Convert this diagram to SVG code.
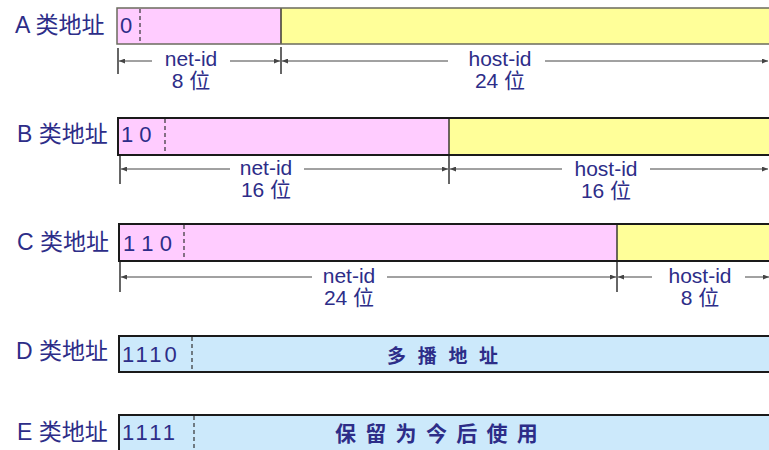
<svg xmlns="http://www.w3.org/2000/svg" width="769" height="450" viewBox="0 0 769 450">
<defs>
<style>
.lbl{font-family:"Liberation Sans","Noto Sans CJK SC",sans-serif;font-size:23px;fill:#2d2d88}
.bits{font-family:"Liberation Sans",sans-serif;font-size:22px;fill:#2d2d88}
.dim{font-family:"Liberation Sans","Noto Sans CJK SC",sans-serif;font-size:21px;fill:#2d2d88;text-anchor:middle}
.big{font-family:"Noto Sans CJK SC",sans-serif;font-weight:bold;fill:#2d2d88}
.pink{fill:#ffccff}
.yellow{fill:#ffff99}
.blue{fill:#cce9fb}
.frame{fill:none;stroke:#1a1a1a;stroke-width:2}
.frameA{fill:none;stroke:#6b6b5e;stroke-width:1.5}
.div{stroke:#3a3a30;stroke-width:1.5}
.dash{stroke:#333;stroke-width:1.2;stroke-dasharray:4 3}
.tick{stroke:#333;stroke-width:1.5}
.dl{stroke:#444;stroke-width:1;fill:none}
.s{marker-start:url(#ah)}
.e{marker-end:url(#ah)}
</style>
<marker id="ah" markerUnits="userSpaceOnUse" markerWidth="6" markerHeight="5" refX="6" refY="2.5" orient="auto-start-reverse">
<path d="M0,0 L6,2.5 L0,5 z" fill="#444"/>
</marker>
</defs>
<rect width="769" height="450" fill="#ffffff"/>

<g id="classA">
<text class="lbl" x="15" y="33">A 类地址</text>
<rect class="pink" x="117" y="8" width="164" height="36"/>
<rect class="yellow" x="281" y="8" width="500" height="36"/>
<line class="div" x1="281" y1="8" x2="281" y2="44"/>
<rect class="frameA" x="117" y="8" width="670" height="36"/>
<line class="dash" x1="140" y1="9" x2="140" y2="43"/>
<text class="bits" x="120" y="33">0</text>
<text class="dim" x="191" y="66">net-id</text>
<text class="dim" x="191" y="88">8 位</text>
<text class="dim" x="500" y="66">host-id</text>
<text class="dim" x="500" y="88">24 位</text>
</g>

<g id="classB">
<text class="lbl" x="17" y="142">B 类地址</text>
<rect class="pink" x="118" y="118" width="331" height="37"/>
<rect class="yellow" x="449" y="118" width="330" height="37"/>
<line class="div" x1="449" y1="118" x2="449" y2="155"/>
<rect class="frame" x="118" y="118" width="670" height="37"/>
<line class="dash" x1="165" y1="119" x2="165" y2="154"/>
<text class="bits" x="121" y="142">1 0</text>
<text class="dim" x="266" y="175">net-id</text>
<text class="dim" x="266" y="197">16 位</text>
<text class="dim" x="606" y="176">host-id</text>
<text class="dim" x="606" y="198">16 位</text>
</g>

<g id="classC">
<text class="lbl" x="17" y="250">C 类地址</text>
<rect class="pink" x="119" y="224" width="498" height="37"/>
<rect class="yellow" x="617" y="224" width="170" height="37"/>
<line class="div" x1="617" y1="224" x2="617" y2="261"/>
<rect class="frame" x="119" y="224" width="670" height="37"/>
<line class="dash" x1="184" y1="225" x2="184" y2="260"/>
<text class="bits" x="123" y="251">1 1 0</text>
<text class="dim" x="349" y="283">net-id</text>
<text class="dim" x="349" y="305">24 位</text>
<text class="dim" x="700" y="283">host-id</text>
<text class="dim" x="700" y="305">8 位</text>
</g>

<g id="classD">
<text class="lbl" x="16" y="359">D 类地址</text>
<rect class="blue" x="119" y="336" width="670" height="36"/>
<rect class="frame" x="119" y="336" width="670" height="36"/>
<line class="dash" x1="192" y1="337" x2="192" y2="371"/>
<text class="bits" x="122" y="362" letter-spacing="3">1110</text>
<text class="big" x="387" y="363" font-size="19" letter-spacing="11.7">多播地址</text>
</g>

<g id="classE">
<text class="lbl" x="17" y="440">E 类地址</text>
<rect class="blue" x="119" y="415" width="670" height="50"/>
<rect class="frame" x="119" y="415" width="670" height="50"/>
<line class="dash" x1="194" y1="416" x2="194" y2="450"/>
<text class="bits" x="122" y="440" letter-spacing="3">1111</text>
<text class="big" x="335" y="441" font-size="21" letter-spacing="9.3">保留为今后使用</text>
</g>

<g id="connectors">
<line class="tick" x1="118" y1="48" x2="118" y2="74"/>
<line class="tick" x1="281" y1="47" x2="281" y2="74"/>
<line class="dl s" x1="119" y1="61" x2="152" y2="61"/>
<line class="dl e" x1="230" y1="61" x2="280" y2="61"/>
<line class="dl s" x1="282" y1="61" x2="448" y2="61"/>
<line class="dl e" x1="545" y1="61" x2="768" y2="61"/>

<line class="tick" x1="120" y1="156" x2="120" y2="184"/>
<line class="tick" x1="449" y1="156" x2="449" y2="184"/>
<line class="dl s" x1="121" y1="169" x2="230" y2="169"/>
<line class="dl e" x1="304" y1="169" x2="448" y2="169"/>
<line class="dl s" x1="450" y1="169" x2="562" y2="169"/>
<line class="dl e" x1="650" y1="169" x2="768" y2="169"/>

<line class="tick" x1="120" y1="262" x2="120" y2="292"/>
<line class="tick" x1="617" y1="262" x2="617" y2="292"/>
<line class="dl s" x1="121" y1="277" x2="312" y2="277"/>
<line class="dl e" x1="387" y1="277" x2="616" y2="277"/>
<line class="dl s" x1="618" y1="277" x2="652" y2="277"/>
<line class="dl e" x1="745" y1="277" x2="769" y2="277"/>
</g>
</svg>
